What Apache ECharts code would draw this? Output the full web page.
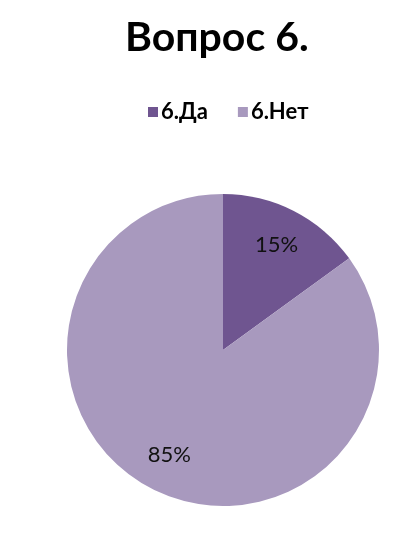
<!DOCTYPE html>
<html>
<head>
<meta charset="utf-8">
<script src="https://cdn.jsdelivr.net/npm/echarts@6/dist/echarts.min.js"></script>
<style>
html,body{margin:0;padding:0;background:#fff;}
#chart{width:402px;height:553px;}
</style>
</head>
<body>
<div id="chart"></div>
<script>
const titleText = 'Вопрос 6.';
const categories = ['6.Да', '6.Нет'];
const values = [15, 85];
const colors = ['#6F5590', '#A899BE'];

const chart = echarts.init(document.getElementById('chart'), null, {renderer: 'canvas'});
const data = categories.map((c, i) => ({name: c, value: values[i], itemStyle: {color: colors[i]}}));
const font = 'Lato, "Open Sans", "Noto Sans", sans-serif';
chart.setOption({
  animation: false,
  backgroundColor: '#fff',
  title: {
    text: titleText,
    left: 120,
    top: 12,
    textStyle: {fontFamily: font, fontWeight: 'bold', fontSize: 41, color: '#000'}
  },
  legend: {
    data: categories,
    top: 96,
    left: 143,
    itemWidth: 10,
    itemHeight: 10,
    itemGap: 30,
    icon: 'rect',
    textStyle: {fontFamily: font, fontWeight: 'bold', fontSize: 22, color: '#000', padding: [0,0,0,-2]}
  },
  series: [
    {
      type: 'pie',
      center: [223, 350],
      radius: [0, 156],
      startAngle: 90,
      clockwise: true,
      data: data,
      label: {show: false},
      labelLine: {show: false},
      itemStyle: {borderWidth: 0}
    },
    {
      type: 'pie',
      center: [223, 350],
      radius: [74, 156],
      startAngle: 90,
      clockwise: true,
      silent: true,
      data: data.map(d => ({name: d.name, value: d.value, itemStyle: {color: 'rgba(0,0,0,0)'}})),
      label: {
        show: true,
        position: 'inside',
        formatter: p => p.value + '%',
        fontFamily: font,
        fontSize: 22,
        color: '#111'
      },
      labelLine: {show: false},
      itemStyle: {borderWidth: 0}
    }
  ]
});
</script>
</body>
</html>
